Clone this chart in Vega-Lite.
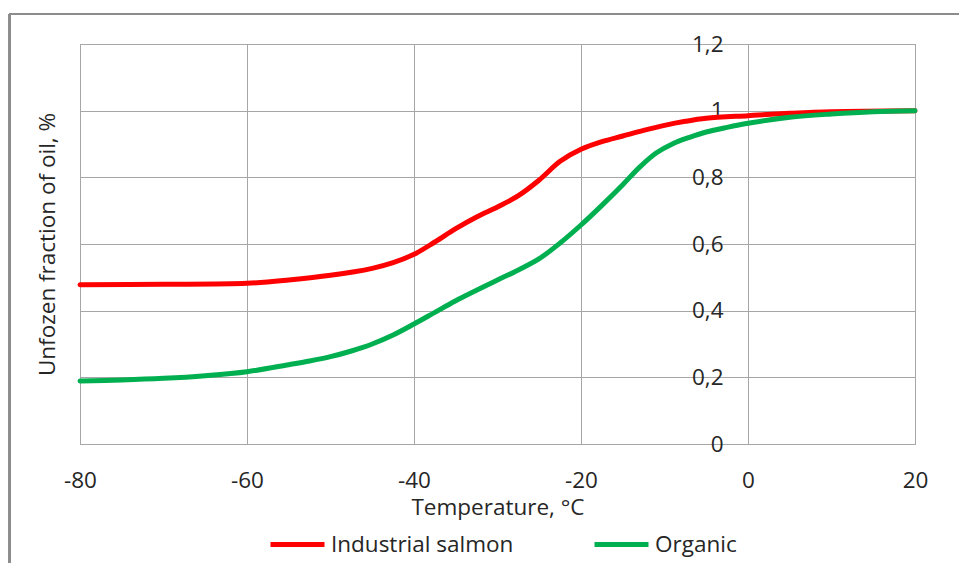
{
  "$schema": "https://vega.github.io/schema/vega-lite/v6.json",
  "width": 835,
  "height": 400,
  "autosize": {"type": "none"},
  "padding": {"left": 80, "top": 44, "right": 44, "bottom": 119},
  "background": "white",
  "config": {
    "font": "Open Sans",
    "view": {"stroke": "#A6A6A6", "strokeWidth": 1},
    "axis": {
      "grid": true,
      "gridColor": "#A6A6A6",
      "gridWidth": 1,
      "domain": false,
      "ticks": false,
      "labelFont": "Open Sans",
      "labelFontSize": 22.5,
      "labelColor": "#262626",
      "titleFont": "Open Sans",
      "titleFontSize": 22.5,
      "titleFontWeight": "normal",
      "titleColor": "#262626"
    },
    "legend": {
      "labelFont": "Open Sans",
      "labelFontSize": 22.5,
      "labelColor": "#262626"
    }
  },
  "data": {
    "values": [
      {"sample": "Industrial salmon", "temperature": -80, "fraction": 0.478},
      {"sample": "Industrial salmon", "temperature": -70, "fraction": 0.479},
      {"sample": "Industrial salmon", "temperature": -60, "fraction": 0.482},
      {"sample": "Industrial salmon", "temperature": -55, "fraction": 0.492},
      {"sample": "Industrial salmon", "temperature": -50, "fraction": 0.506},
      {"sample": "Industrial salmon", "temperature": -45, "fraction": 0.527},
      {"sample": "Industrial salmon", "temperature": -42.5, "fraction": 0.544},
      {"sample": "Industrial salmon", "temperature": -40, "fraction": 0.569},
      {"sample": "Industrial salmon", "temperature": -37.5, "fraction": 0.606},
      {"sample": "Industrial salmon", "temperature": -35, "fraction": 0.646},
      {"sample": "Industrial salmon", "temperature": -32.5, "fraction": 0.681},
      {"sample": "Industrial salmon", "temperature": -30, "fraction": 0.711},
      {"sample": "Industrial salmon", "temperature": -27.5, "fraction": 0.745},
      {"sample": "Industrial salmon", "temperature": -25, "fraction": 0.792},
      {"sample": "Industrial salmon", "temperature": -22.5, "fraction": 0.848},
      {"sample": "Industrial salmon", "temperature": -20, "fraction": 0.884},
      {"sample": "Industrial salmon", "temperature": -17.5, "fraction": 0.907},
      {"sample": "Industrial salmon", "temperature": -15, "fraction": 0.924},
      {"sample": "Industrial salmon", "temperature": -12.5, "fraction": 0.941},
      {"sample": "Industrial salmon", "temperature": -10, "fraction": 0.956},
      {"sample": "Industrial salmon", "temperature": -7.5, "fraction": 0.968},
      {"sample": "Industrial salmon", "temperature": -5, "fraction": 0.977},
      {"sample": "Industrial salmon", "temperature": 0, "fraction": 0.985},
      {"sample": "Industrial salmon", "temperature": 5, "fraction": 0.992},
      {"sample": "Industrial salmon", "temperature": 10, "fraction": 0.997},
      {"sample": "Industrial salmon", "temperature": 20, "fraction": 1.0},
      {"sample": "Organic", "temperature": -80, "fraction": 0.189},
      {"sample": "Organic", "temperature": -75, "fraction": 0.192},
      {"sample": "Organic", "temperature": -70, "fraction": 0.197},
      {"sample": "Organic", "temperature": -65, "fraction": 0.205},
      {"sample": "Organic", "temperature": -60, "fraction": 0.217},
      {"sample": "Organic", "temperature": -55, "fraction": 0.238},
      {"sample": "Organic", "temperature": -52.5, "fraction": 0.249},
      {"sample": "Organic", "temperature": -50, "fraction": 0.262},
      {"sample": "Organic", "temperature": -47.5, "fraction": 0.279},
      {"sample": "Organic", "temperature": -45, "fraction": 0.3},
      {"sample": "Organic", "temperature": -42.5, "fraction": 0.327},
      {"sample": "Organic", "temperature": -40, "fraction": 0.36},
      {"sample": "Organic", "temperature": -37.5, "fraction": 0.395},
      {"sample": "Organic", "temperature": -35, "fraction": 0.43},
      {"sample": "Organic", "temperature": -30, "fraction": 0.492},
      {"sample": "Organic", "temperature": -27.5, "fraction": 0.522},
      {"sample": "Organic", "temperature": -25, "fraction": 0.556},
      {"sample": "Organic", "temperature": -22.5, "fraction": 0.603},
      {"sample": "Organic", "temperature": -20, "fraction": 0.657},
      {"sample": "Organic", "temperature": -17.5, "fraction": 0.716},
      {"sample": "Organic", "temperature": -15, "fraction": 0.778},
      {"sample": "Organic", "temperature": -13, "fraction": 0.83},
      {"sample": "Organic", "temperature": -11, "fraction": 0.873},
      {"sample": "Organic", "temperature": -9, "fraction": 0.901},
      {"sample": "Organic", "temperature": -7, "fraction": 0.92},
      {"sample": "Organic", "temperature": -5, "fraction": 0.936},
      {"sample": "Organic", "temperature": -2.5, "fraction": 0.95},
      {"sample": "Organic", "temperature": 0, "fraction": 0.962},
      {"sample": "Organic", "temperature": 5, "fraction": 0.98},
      {"sample": "Organic", "temperature": 10, "fraction": 0.99},
      {"sample": "Organic", "temperature": 15, "fraction": 0.997},
      {"sample": "Organic", "temperature": 20, "fraction": 1.0}
    ]
  },
  "layer": [
    {
      "mark": {"type": "line", "interpolate": "catmull-rom", "strokeWidth": 5, "strokeCap": "round"},
      "encoding": {
        "x": {
          "field": "temperature",
          "type": "quantitative",
          "scale": {"domain": [-80, 20], "nice": false, "zero": false},
          "axis": {
            "values": [-80, -60, -40, -20, 0, 20],
            "labelExpr": "'' + datum.value",
            "labelFlush": false,
            "labelPadding": 25,
            "title": "Temperature, °C",
            "titleY": 70,
            "titleBaseline": "alphabetic"
          }
        },
        "y": {
          "field": "fraction",
          "type": "quantitative",
          "scale": {"domain": [0, 1.2], "nice": false},
          "axis": {
            "values": [0, 0.2, 0.4, 0.6, 0.8, 1, 1.2],
            "format": ".1~f",
            "labelExpr": "replace(datum.label, '.', ',')",
            "offset": -668,
            "labelPadding": 25,
            "title": "Unfozen fraction of oil, %",
            "titleAngle": -90,
            "titleX": -701,
            "titleY": 200,
            "titleAlign": "center",
            "titleBaseline": "middle"
          }
        },
        "color": {
          "field": "sample",
          "type": "nominal",
          "scale": {"domain": ["Industrial salmon", "Organic"], "range": ["#FF0000", "#00B050"]},
          "legend": {
            "title": null,
            "orient": "none",
            "direction": "horizontal",
            "legendX": 188,
            "legendY": 471,
            "padding": 0,
            "symbolType": "stroke",
            "symbolSize": 2916,
            "symbolStrokeWidth": 5,
            "labelOffset": 4,
            "labelLimit": 400,
            "columnPadding": 70
          }
        }
      }
    },
    {
      "mark": {"type": "rule", "color": "#8C8C8C", "strokeWidth": 2},
      "encoding": {
        "x": {"datum": -88.4},
        "y": {"datum": 1.29},
        "y2": {"datum": -0.4}
      }
    },
    {
      "mark": {"type": "rule", "color": "#8C8C8C", "strokeWidth": 2},
      "encoding": {
        "x": {"datum": -88.4},
        "x2": {"datum": 26},
        "y": {"datum": 1.29}
      }
    }
  ]
}
